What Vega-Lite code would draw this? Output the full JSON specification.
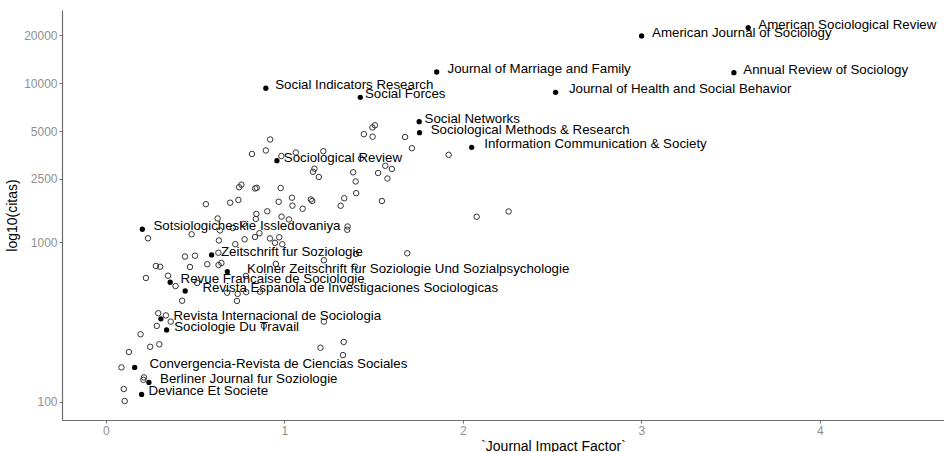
{
  "$schema": "https://vega.github.io/schema/vega-lite/v6.json",
  "width": 882,
  "height": 410,
  "autosize": "none",
  "padding": {"left": 62, "top": 10, "right": 0, "bottom": 32},
  "background": "white",
  "config": {"view": {"stroke": null}, "font": "Liberation Sans"},
  "datasets": {
    "otras": [
      {"jif":0.920,"citas":4426},{"jif":0.896,"citas":3776},{"jif":0.818,"citas":3589},{"jif":0.983,"citas":3486},{"jif":1.064,"citas":3665},{"jif":1.218,"citas":3737},{"jif":1.168,"citas":2901},{"jif":1.160,"citas":2774},{"jif":1.193,"citas":2574},{"jif":1.445,"citas":4779},{"jif":1.494,"citas":4609},{"jif":1.493,"citas":5263},{"jif":1.507,"citas":5433},{"jif":1.429,"citas":3363},{"jif":1.385,"citas":2754},{"jif":1.399,"citas":2412},{"jif":1.402,"citas":2037},{"jif":1.525,"citas":2727},{"jif":1.565,"citas":3026},{"jif":1.602,"citas":2889},{"jif":1.577,"citas":2518},{"jif":1.546,"citas":1819},{"jif":1.335,"citas":1892},{"jif":1.315,"citas":1698},{"jif":0.979,"citas":2195},{"jif":1.042,"citas":1908},{"jif":1.045,"citas":1700},{"jif":0.968,"citas":1798},{"jif":1.102,"citas":1625},{"jif":1.148,"citas":1859},{"jif":1.156,"citas":1819},{"jif":0.759,"citas":2302},{"jif":0.746,"citas":2218},{"jif":0.836,"citas":2180},{"jif":0.845,"citas":2202},{"jif":0.560,"citas":1737},{"jif":0.696,"citas":1775},{"jif":0.742,"citas":1846},{"jif":0.843,"citas":1508},{"jif":0.904,"citas":1567},{"jif":0.984,"citas":1450},{"jif":1.025,"citas":1393},{"jif":0.626,"citas":1413},{"jif":1.676,"citas":4589},{"jif":1.714,"citas":3902},{"jif":1.920,"citas":3547},{"jif":2.077,"citas":1448},{"jif":2.256,"citas":1563},{"jif":1.354,"citas":1258},{"jif":1.352,"citas":1200},{"jif":1.688,"citas":854},{"jif":1.401,"citas":846},{"jif":1.221,"citas":772},{"jif":0.952,"citas":732},{"jif":1.395,"citas":704},{"jif":0.840,"citas":1403},{"jif":0.777,"citas":1046},{"jif":0.835,"citas":1081},{"jif":0.860,"citas":1141},{"jif":0.919,"citas":1058},{"jif":0.947,"citas":994},{"jif":0.971,"citas":1076},{"jif":0.988,"citas":973},{"jif":0.639,"citas":1188},{"jif":0.711,"citas":1231},{"jif":0.773,"citas":1305},{"jif":0.236,"citas":1061},{"jif":0.480,"citas":1124},{"jif":0.633,"citas":1028},{"jif":0.725,"citas":974},{"jif":0.443,"citas":815},{"jif":0.499,"citas":825},{"jif":0.630,"citas":861},{"jif":0.568,"citas":729},{"jif":0.631,"citas":721},{"jif":0.647,"citas":742},{"jif":0.280,"citas":711},{"jif":0.304,"citas":703},{"jif":0.471,"citas":701},{"jif":0.224,"citas":598},{"jif":0.348,"citas":618},{"jif":0.390,"citas":532},{"jif":0.511,"citas":556},{"jif":0.679,"citas":483},{"jif":0.738,"citas":475},{"jif":0.734,"citas":429},{"jif":0.786,"citas":487},{"jif":0.863,"citas":490},{"jif":0.427,"citas":430},{"jif":0.784,"citas":615},{"jif":0.293,"citas":359},{"jif":0.336,"citas":348},{"jif":0.285,"citas":299},{"jif":0.363,"citas":318},{"jif":0.194,"citas":265},{"jif":0.129,"citas":205},{"jif":0.248,"citas":221},{"jif":0.299,"citas":229},{"jif":0.087,"citas":164},{"jif":0.213,"citas":142},{"jif":0.210,"citas":137},{"jif":0.100,"citas":120},{"jif":0.105,"citas":101},{"jif":1.221,"citas":318},{"jif":1.202,"citas":218},{"jif":1.332,"citas":237},{"jif":1.328,"citas":196},{"jif":0.885,"citas":299}
    ],
    "destacadas": [
      {"journal":"American Sociological Review","jif":3.598,"citas":22280},
      {"journal":"American Journal of Sociology","jif":3.001,"citas":19770},
      {"journal":"Annual Review of Sociology","jif":3.518,"citas":11620},
      {"journal":"Journal of Marriage and Family","jif":1.853,"citas":11740},
      {"journal":"Journal of Health and Social Behavior","jif":2.519,"citas":8750},
      {"journal":"Social Indicators Research","jif":0.896,"citas":9280},
      {"journal":"Social Forces","jif":1.425,"citas":8145},
      {"journal":"Social Networks","jif":1.755,"citas":5725},
      {"journal":"Sociological Methods & Research","jif":1.757,"citas":4886},
      {"journal":"Information Communication & Society","jif":2.049,"citas":3953},
      {"journal":"Sociological Review","jif":0.958,"citas":3258},
      {"journal":"Sotsiologicheskie Issledovaniya","jif":0.204,"citas":1209},
      {"journal":"Zeitschrift fur Soziologie","jif":0.592,"citas":834},
      {"journal":"Kolner Zeitschrift fur Soziologie Und Sozialpsychologie","jif":0.680,"citas":655},
      {"journal":"Revue Francaise de Sociologie","jif":0.360,"citas":562},
      {"journal":"Revista Espanola de Investigaciones Sociologicas","jif":0.444,"citas":495},
      {"journal":"Revista Internacional de Sociologia","jif":0.308,"citas":331},
      {"journal":"Sociologie Du Travail","jif":0.340,"citas":282},
      {"journal":"Convergencia-Revista de Ciencias Sociales","jif":0.161,"citas":164},
      {"journal":"Berliner Journal fur Soziologie","jif":0.241,"citas":132},
      {"journal":"Deviance Et Societe","jif":0.200,"citas":111}
    ]
  },
  "layer": [
    {
      "data": {"name": "otras"},
      "mark": {"type": "point", "shape": "circle", "filled": false, "stroke": "#333333", "strokeWidth": 1, "size": 30, "opacity": 1},
      "encoding": {
        "x": {
          "field": "jif", "type": "quantitative",
          "scale": {"domain": [-0.246, 4.695], "nice": false, "zero": false},
          "axis": {
            "title": "`Journal Impact Factor`", "values": [0, 1, 2, 3, 4], "format": "d", "grid": false,
            "domainColor": "#6e6e6e", "domainWidth": 1.2, "tickColor": "#6e6e6e", "tickSize": 3,
            "labelColor": "#8f8f8f", "labelFontSize": 12, "labelPadding": 2,
            "titleColor": "black", "titleFontSize": 14, "titleFontWeight": "normal", "titlePadding": 3,
            "titleX": 491, "titleAlign": "center", "titleAnchor": null
          }
        },
        "y": {
          "field": "citas", "type": "quantitative",
          "scale": {"type": "log", "domain": [76.7, 28770], "nice": false, "zero": false},
          "axis": {
            "title": "log10(citas)", "values": [100, 1000, 2500, 5000, 10000, 20000], "format": "d", "grid": false,
            "domainColor": "#6e6e6e", "domainWidth": 1.2, "tickColor": "#6e6e6e", "tickSize": 3,
            "labelColor": "#8f8f8f", "labelFontSize": 12, "labelPadding": 2,
            "titleColor": "black", "titleFontSize": 14, "titleFontWeight": "normal", "titlePadding": 4
          }
        }
      }
    },
    {
      "data": {"name": "destacadas"},
      "mark": {"type": "circle", "color": "black", "size": 28, "opacity": 1},
      "encoding": {
        "x": {"field": "jif", "type": "quantitative"},
        "y": {"field": "citas", "type": "quantitative"}
      }
    },
    {
      "data": {"name": "destacadas"},
      "mark": {"type": "text", "align": "left", "baseline": "middle", "dx": {"expr": "0.36*length(datum.journal)"}, "dy": -3, "fontSize": 13.3, "color": "black"},
      "encoding": {
        "x": {"field": "jif", "type": "quantitative"},
        "y": {"field": "citas", "type": "quantitative"},
        "text": {"field": "journal"}
      }
    }
  ]
}
